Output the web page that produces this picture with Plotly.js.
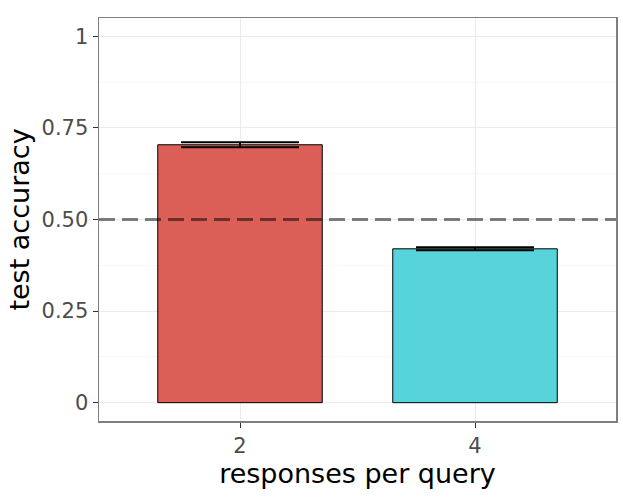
<!DOCTYPE html>
<html>
<head>
<meta charset="utf-8">
<script src="https://cdn.plot.ly/plotly-3.0.1.min.js"></script>
<style>
  html, body { margin: 0; padding: 0; background: #fff; }
  #chart { width: 623px; height: 498px; }
</style>
</head>
<body>
<div id="chart"></div>
<script>
var categories = ['2', '4'];
var accuracy = [0.704, 0.420];
var errors = [0.007, 0.004];
var barColors = ['#db5f57', '#57d3db'];
var yTickVals = [0, 0.25, 0.5, 0.75, 1];
var yTickText = ['0', '0.25', '0.50', '0.75', '1'];
var chanceLevel = 0.5;

var trace = {
    x: categories,
    y: accuracy,
    type: 'bar',
    width: 0.7,
    marker: {
        color: barColors,
        line: { color: '#000000', width: 1 }
    },
    error_y: {
        type: 'data',
        array: errors,
        visible: true,
        color: '#000000',
        thickness: 2,
        width: 59
    },
    hoverinfo: 'none'
};

var layout = {
    width: 623,
    height: 498,
    margin: { l: 99, r: 7, t: 18, b: 77 },
    paper_bgcolor: '#ffffff',
    plot_bgcolor: '#ffffff',
    showlegend: false,
    font: { family: 'DejaVu Sans', color: '#4d4d4d' },
    xaxis: {
        type: 'category',
        range: [-0.6, 1.6],
        showgrid: true,
        gridcolor: '#ebebeb',
        gridwidth: 1,
        showline: true,
        mirror: true,
        linecolor: '#7f7f7f',
        linewidth: 1.5,
        ticks: 'outside',
        ticklen: 5,
        tickcolor: '#333333',
        tickfont: { size: 21, color: '#4d4d4d' },
        zeroline: false,
        title: {
            text: 'responses per query',
            font: { size: 27, color: '#000000' },
            standoff: 4
        }
    },
    yaxis: {
        range: [-0.05, 1.05],
        tickmode: 'array',
        tickvals: yTickVals,
        ticktext: yTickText,
        showgrid: true,
        gridcolor: '#ebebeb',
        gridwidth: 1,
        minor: {
            tickmode: 'linear',
            tick0: 0.125,
            dtick: 0.25,
            showgrid: true,
            gridcolor: '#f3f3f3',
            gridwidth: 0.6,
            ticks: ''
        },
        showline: true,
        mirror: true,
        linecolor: '#7f7f7f',
        linewidth: 1.5,
        ticks: 'outside',
        ticklen: 5,
        tickcolor: '#333333',
        tickfont: { size: 21, color: '#4d4d4d' },
        zeroline: false,
        title: {
            text: 'test accuracy',
            font: { size: 27, color: '#000000' },
            standoff: 4
        }
    },
    shapes: [{
        type: 'line',
        xref: 'paper',
        yref: 'y',
        x0: 0,
        x1: 1,
        y0: chanceLevel,
        y1: chanceLevel,
        layer: 'above',
        line: { color: 'rgba(0,0,0,0.5)', width: 3, dash: '16px,7px' }
    }]
};

Plotly.newPlot('chart', [trace], layout, { displayModeBar: false, staticPlot: true });
</script>
</body>
</html>
